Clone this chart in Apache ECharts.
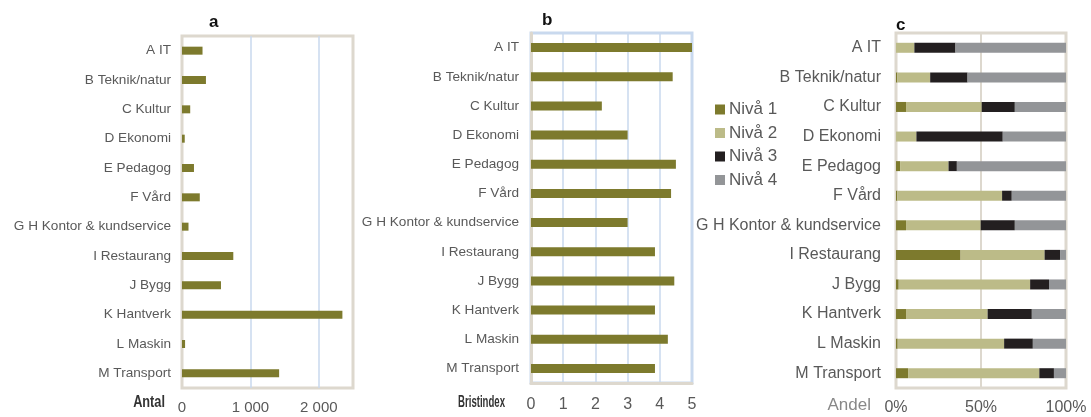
<!DOCTYPE html>
<html>
<head>
<meta charset="utf-8">
<script src="https://cdn.jsdelivr.net/npm/echarts@6/dist/echarts.min.js"></script>
<style>
  html, body { margin: 0; padding: 0; background: #fff; }
  #chart { width: 1091px; height: 417px; }
</style>
</head>
<body>
<div id="chart"></div>
<script>
// Yrkesområden (uppifrån och ned)
const categories = ['A IT', 'B Teknik/natur', 'C Kultur', 'D Ekonomi', 'E Pedagog', 'F Vård',
  'G H Kontor & kundservice', 'I Restaurang', 'J Bygg', 'K Hantverk', 'L Maskin', 'M Transport'];

// a: antal
const antal = [300, 350, 120, 40, 175, 260, 95, 750, 570, 2345, 45, 1420];
// b: bristindex
const bristindex = [5.0, 4.4, 2.2, 3.0, 4.5, 4.35, 3.0, 3.85, 4.45, 3.85, 4.25, 3.85];
// c: andel per nivå (procent)
const niva1 = [0, 0.8, 5.9, 0, 2.4, 0.8, 5.9, 38.0, 1.6, 5.9, 1.0, 7.1];
const niva2 = [10.8, 19.3, 44.5, 12.0, 28.5, 61.6, 43.9, 49.4, 77.3, 48.0, 62.6, 77.2];
const niva3 = [24.2, 22.0, 19.5, 50.8, 4.9, 5.7, 20.1, 9.1, 11.1, 26.0, 16.9, 8.6];
const niva4 = [65.0, 57.9, 30.1, 37.2, 64.2, 31.9, 30.1, 3.5, 10.0, 20.1, 19.5, 7.1];
const nivaNames = ['Nivå 1', 'Nivå 2', 'Nivå 3', 'Nivå 4'];

const antalTicks = { min: 0, max: 2500, interval: 1000 };
const bristTicks = { min: 0, max: 5, interval: 1 };
const andelTicks = { min: 0, max: 100, interval: 50 };

const OLIVE = '#7d7a2d';
const KHAKI = '#bcbb88';
const DARK = '#231f20';
const GREY = '#939598';
const BEIGE = '#ddd8ce';
const BLUE = '#c9d9ee';
const TEXT = '#595959';
const SANS = "'Liberation Sans', Arial, sans-serif";

const chart = echarts.init(document.getElementById('chart'), null, { renderer: 'canvas' });

function catAxis(gridIndex, margin, size) {
  return {
    type: 'category', gridIndex, data: categories, inverse: true,
    axisTick: { show: false }, axisLine: { show: false },
    axisLabel: { color: TEXT, fontSize: size, fontFamily: SANS, margin }
  };
}

const option = {
  animation: false,
  backgroundColor: '#fff',
  title: [
    { text: 'a', left: 209, top: 14, padding: 0, textStyle: { fontSize: 17, fontWeight: 'bold', color: '#111', fontFamily: SANS } },
    { text: 'b', left: 542, top: 12, padding: 0, textStyle: { fontSize: 17, fontWeight: 'bold', color: '#111', fontFamily: SANS } },
    { text: 'c', left: 896, top: 17, padding: 0, textStyle: { fontSize: 17, fontWeight: 'bold', color: '#111', fontFamily: SANS } }
  ],
  legend: {
    orient: 'vertical', left: 715, top: 101, padding: 0, icon: 'rect',
    itemWidth: 10, itemHeight: 10, itemGap: 6.5,
    data: nivaNames,
    textStyle: { color: TEXT, fontSize: 17, fontFamily: SANS, padding: [0, 0, 0, -1] }
  },
  grid: [
    { left: 182, top: 36, width: 171, height: 352, show: true, borderColor: BEIGE, borderWidth: 3, outerBoundsMode: 'none' },
    { left: 531, top: 33, width: 161, height: 350, show: true, borderColor: BLUE, borderWidth: 3, outerBoundsMode: 'none' },
    { left: 896, top: 33, width: 170, height: 355, show: true, borderColor: BEIGE, borderWidth: 3, outerBoundsMode: 'none' }
  ],
  xAxis: [
    {
      type: 'value', gridIndex: 0, ...antalTicks,
      axisLine: { show: false }, axisTick: { show: false },
      splitLine: { show: true, showMinLine: false, showMaxLine: false, lineStyle: { color: BLUE, width: 1.5 } },
      axisLabel: {
        color: TEXT, fontSize: 15, fontFamily: SANS, margin: 12, showMaxLabel: false,
        formatter: v => v >= 1000 ? Math.floor(v / 1000) + ' ' + String(v % 1000).padStart(3, '0') : String(v)
      }
    },
    {
      type: 'value', gridIndex: 1, ...bristTicks, z: 1,
      axisLine: { show: true, lineStyle: { color: BEIGE, width: 3 } }, axisTick: { show: false },
      splitLine: { show: true, showMinLine: false, showMaxLine: false, lineStyle: { color: BLUE, width: 1.5 } },
      axisLabel: { color: TEXT, fontSize: 16, fontFamily: SANS, margin: 14 }
    },
    {
      type: 'value', gridIndex: 2, ...andelTicks,
      axisLine: { show: false }, axisTick: { show: false },
      splitLine: { show: true, showMinLine: false, showMaxLine: false, lineStyle: { color: BEIGE, width: 2 } },
      axisLabel: { color: TEXT, fontSize: 16, fontFamily: SANS, margin: 12, formatter: '{value}%' }
    }
  ],
  yAxis: [
    catAxis(0, 11, 13.6),
    Object.assign(catAxis(1, 12, 13.6), { z: 1, axisLine: { show: true, lineStyle: { color: BEIGE, width: 3 } } }),
    catAxis(2, 15, 16)
  ],
  series: [
    { type: 'bar', xAxisIndex: 0, yAxisIndex: 0, data: antal, barWidth: 8, itemStyle: { color: OLIVE } },
    { type: 'bar', xAxisIndex: 1, yAxisIndex: 1, data: bristindex, barWidth: 9, itemStyle: { color: OLIVE } },
    { type: 'bar', name: nivaNames[0], xAxisIndex: 2, yAxisIndex: 2, stack: 'niva', data: niva1, barWidth: 10, itemStyle: { color: OLIVE } },
    { type: 'bar', name: nivaNames[1], xAxisIndex: 2, yAxisIndex: 2, stack: 'niva', data: niva2, barWidth: 10, itemStyle: { color: KHAKI } },
    { type: 'bar', name: nivaNames[2], xAxisIndex: 2, yAxisIndex: 2, stack: 'niva', data: niva3, barWidth: 10, itemStyle: { color: DARK } },
    { type: 'bar', name: nivaNames[3], xAxisIndex: 2, yAxisIndex: 2, stack: 'niva', data: niva4, barWidth: 10, itemStyle: { color: GREY } }
  ],
  graphic: [
    // axelnamn, högerställda framför skalans första etikett
    { type: 'text', x: 165, y: 402, scaleX: 0.75, style: { text: 'Antal', align: 'right', verticalAlign: 'middle', fill: '#333', font: 'bold 17px ' + SANS } },
    { type: 'text', x: 505, y: 403, scaleX: 0.6, style: { text: 'Bristindex', align: 'right', verticalAlign: 'middle', fill: '#333', font: 'bold 16px ' + SANS } },
    { type: 'text', x: 871, y: 405, style: { text: 'Andel', align: 'right', verticalAlign: 'middle', fill: '#888', font: '17px ' + SANS } }
  ]
};

chart.setOption(option);
</script>
</body>
</html>
